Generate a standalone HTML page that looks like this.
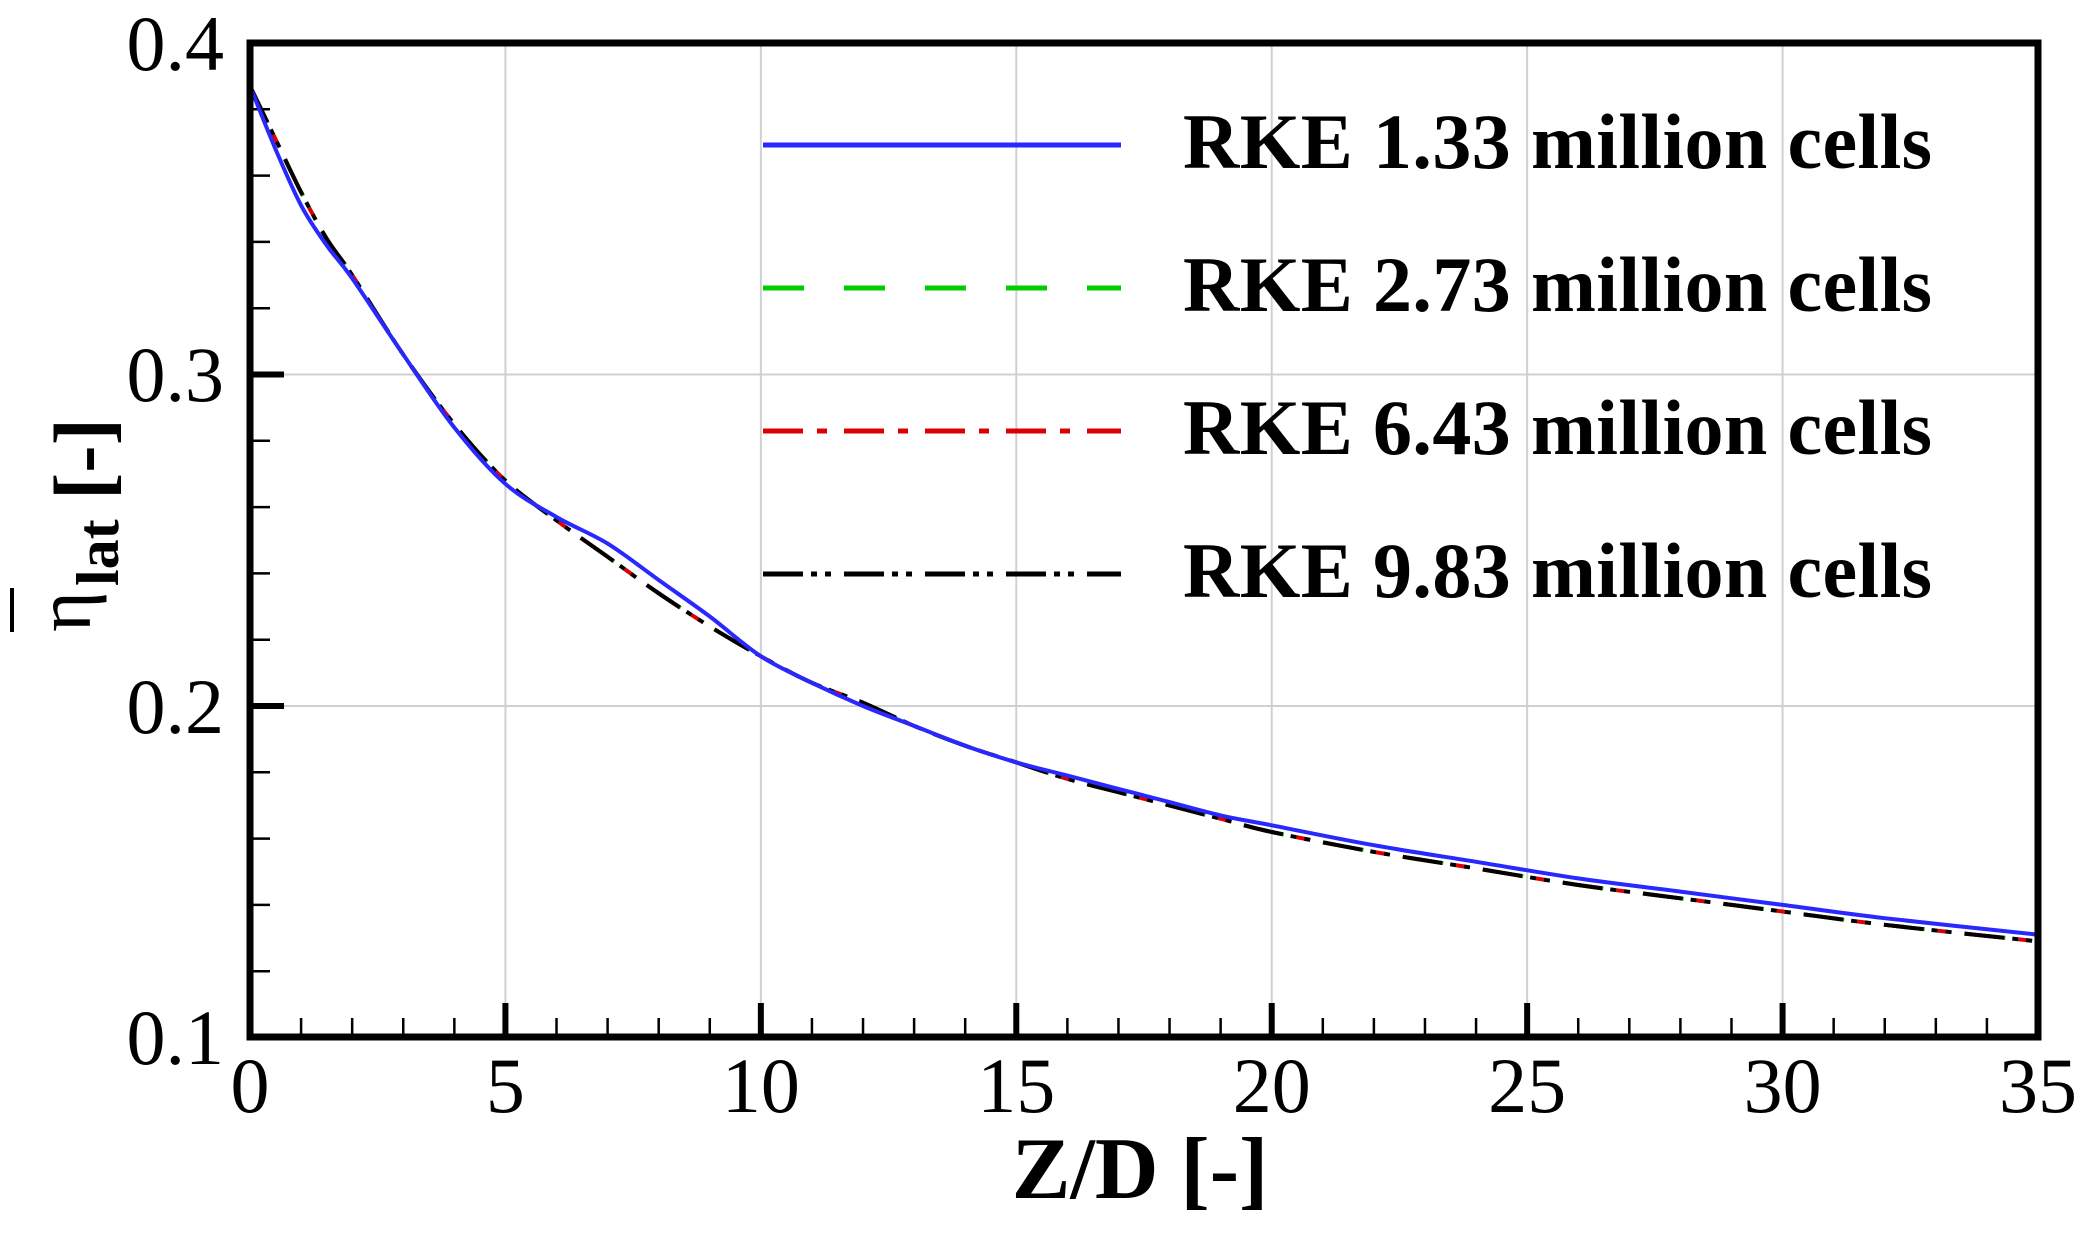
<!DOCTYPE html>
<html><head><meta charset="utf-8"><style>
html,body{margin:0;padding:0;background:#fff;}
svg{display:block;}
text{font-family:"Liberation Serif",serif;}
</style></head><body>
<svg id="s" width="2089" height="1233" viewBox="0 0 2089 1233" xmlns="http://www.w3.org/2000/svg">
<rect width="2089" height="1233" fill="#fff"/>
<g id="grid" stroke="#d0d0d0" stroke-width="2"></g>
<g id="ticks" stroke="#000"></g>
<g id="curves" fill="none" stroke-width="4" stroke-linejoin="round"></g>
<rect x="250" y="43" width="1788" height="994" fill="none" stroke="#000" stroke-width="7"/>
<g font-size="78" text-anchor="end">
<text x="224" y="70">0.4</text>
<text x="224" y="401">0.3</text>
<text x="224" y="733">0.2</text>
<text x="224" y="1064">0.1</text>
</g>
<g font-size="78" text-anchor="middle">
<text x="250" y="1112">0</text>
<text x="505.4" y="1112">5</text>
<text x="760.9" y="1112">10</text>
<text x="1016.3" y="1112">15</text>
<text x="1271.7" y="1112">20</text>
<text x="1527.1" y="1112">25</text>
<text x="1782.6" y="1112">30</text>
<text x="2038" y="1112">35</text>
</g>
<text x="1140" y="1198" font-size="88" font-weight="bold" text-anchor="middle">Z/D [-]</text>
<g transform="translate(90,632) rotate(-90)">
<text x="0" y="0" font-size="78" font-family="DejaVu Serif, serif">η</text>
<text x="46" y="28" font-size="60" font-weight="bold">lat</text>
<text x="132" y="20" font-size="82" font-weight="bold">[-]</text>
</g>
<line x1="12" y1="588" x2="12" y2="632" stroke="#000" stroke-width="4"/>
<g font-size="78" font-weight="bold">
<text x="1183" y="168" textLength="749">RKE 1.33 million cells</text>
<text x="1183" y="311" textLength="749">RKE 2.73 million cells</text>
<text x="1183" y="454" textLength="749">RKE 6.43 million cells</text>
<text x="1183" y="597" textLength="749">RKE 9.83 million cells</text>
</g>
<g stroke-width="5">
<line x1="763" y1="145" x2="1121" y2="145" stroke="#2828ff"/>
<line x1="763" y1="288" x2="1121" y2="288" stroke="#00cc00" stroke-dasharray="41 40"/>
<line x1="763" y1="431" x2="1121" y2="431" stroke="#dd0000" stroke-dasharray="40 14 10 17"/>
<line x1="763" y1="574" x2="1121" y2="574" stroke="#000" stroke-dasharray="40 8 6 8 6 13"/>
</g>
</svg>
<script>
var NS="http://www.w3.org/2000/svg";
function X(v){return 250+v*1788/35;}
function Y(v){return 43+(0.4-v)*3315;}
function el(p,tag,a){var e=document.createElementNS(NS,tag);for(var k in a)e.setAttribute(k,a[k]);p.appendChild(e);}
var g=document.getElementById('grid'),t=document.getElementById('ticks'),c=document.getElementById('curves');
for(var i=5;i<35;i+=5)el(g,'line',{x1:X(i),y1:43,x2:X(i),y2:1037});
[0.2,0.3].forEach(function(v){el(g,'line',{x1:250,y1:Y(v),x2:2038,y2:Y(v)});});
for(var i=1;i<35;i++){var maj=i%5==0;el(t,'line',{x1:X(i),y1:1037,x2:X(i),y2:1037-(maj?34:19),'stroke-width':maj?6:2.5});}
for(var j=1;j<15;j++){var v=0.1+j*0.02;var maj=j%5==0;el(t,'line',{x1:250,y1:Y(v),x2:250+(maj?34:20),y2:Y(v),'stroke-width':maj?6:2.5});}
var blue=[[0,0.387],[0.5,0.368],[1,0.351],[1.5,0.339],[2,0.329],[3,0.306],[4,0.284],[5,0.267],[6,0.257],[7,0.249],[8,0.238],[9,0.227],[10,0.215],[11,0.207],[12,0.200],[13,0.194],[14,0.188],[15,0.183],[16,0.179],[17,0.175],[18,0.171],[19,0.167],[20,0.164],[22,0.158],[24,0.153],[26,0.148],[28,0.144],[30,0.140],[32,0.136],[35,0.131]];
var blk=[[0,0.387],[0.5,0.371],[1,0.355],[1.5,0.341],[2,0.330],[3,0.306],[4,0.285],[5,0.268],[6,0.256],[7,0.245],[8,0.234],[9,0.224],[10,0.215],[11,0.207],[12,0.201],[13,0.194],[14,0.188],[15,0.183],[16,0.178],[17,0.174],[18,0.170],[19,0.166],[20,0.162],[22,0.156],[24,0.151],[26,0.146],[28,0.142],[30,0.138],[32,0.134],[35,0.129]];
function path(d){
  var P=d.map(function(p){return [X(p[0]),Y(p[1])];});
  var s='M'+P[0][0].toFixed(1)+' '+P[0][1].toFixed(1);
  for(var i=0;i<P.length-1;i++){
    var p0=P[i>0?i-1:i],p1=P[i],p2=P[i+1],p3=P[i+2<P.length?i+2:i+1];
    var c1x=p1[0]+(p2[0]-p0[0])/6,c1y=p1[1]+(p2[1]-p0[1])/6;
    var c2x=p2[0]-(p3[0]-p1[0])/6,c2y=p2[1]-(p3[1]-p1[1])/6;
    s+='C'+c1x.toFixed(1)+' '+c1y.toFixed(1)+' '+c2x.toFixed(1)+' '+c2y.toFixed(1)+' '+p2[0].toFixed(1)+' '+p2[1].toFixed(1);
  }
  return s;
}
var pb=path(blk);
el(c,'path',{d:pb,stroke:'#00cc00','stroke-dasharray':'41 40'});
el(c,'path',{d:pb,stroke:'#dd0000','stroke-dasharray':'40 14 10 17'});
el(c,'path',{d:pb,stroke:'#000','stroke-dasharray':'40 8 6 8 6 13'});
el(c,'path',{d:path(blue),stroke:'#2828ff'});
</script>
</body></html>
